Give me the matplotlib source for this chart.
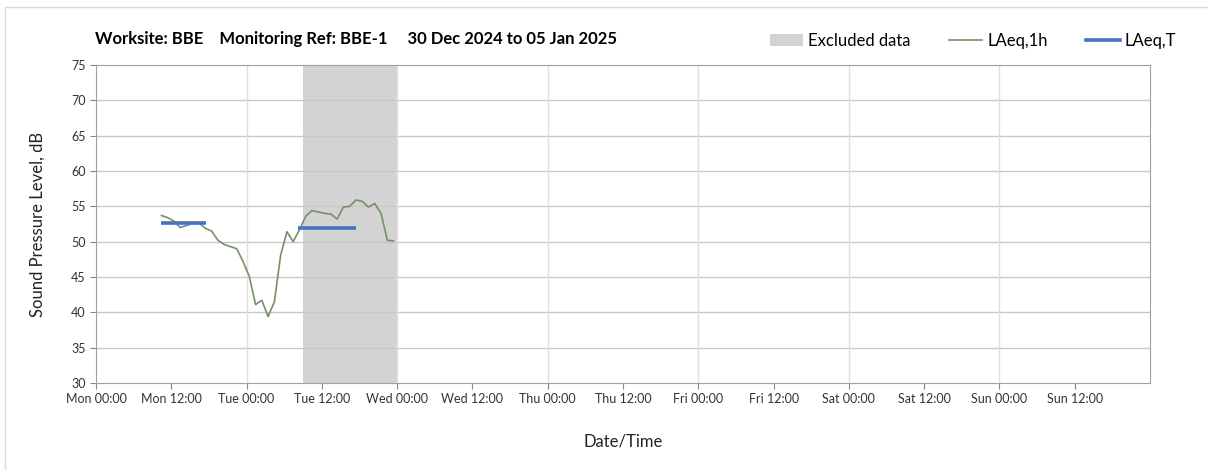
import matplotlib
matplotlib.use("Agg")
import matplotlib.pyplot as plt
from matplotlib.patches import Patch, Rectangle
from matplotlib.lines import Line2D
import numpy as np
import pandas as pd

# hourly LAeq,1h values, first reading Mon 30 Dec ~10:26
start = pd.Timestamp("2024-12-30 10:26")
laeq_1h = [53.7, 53.4, 52.9, 52.0, 52.3, 52.6, 52.6, 51.9, 51.5, 50.2,
           49.6, 49.3, 49.0, 47.2, 45.1, 41.1, 41.7, 39.4, 41.5, 48.1,
           51.4, 50.0, 51.7, 53.6, 54.4, 54.2, 54.0, 53.9, 53.2, 54.9,
           55.0, 55.9, 55.7, 54.9, 55.4, 54.0, 50.2, 50.1]
times_1h = pd.date_range(start, periods=len(laeq_1h), freq="h")

# LAeq,T periods
laeq_t_start = ["2024-12-30 10:18", "2024-12-31 08:12"]
laeq_t_end = ["2024-12-30 17:36", "2024-12-31 17:24"]
laeq_t = [52.7, 51.9]

excl_start = "2024-12-31 09:00"
excl_end = "2025-01-01 00:00"

x_min = pd.Timestamp("2024-12-30 00:00")
x_max = pd.Timestamp("2025-01-06 00:00")

plt.rcParams["font.family"] = ["Lato", "DejaVu Sans"]

fig = plt.figure(figsize=(12.08, 4.70), dpi=100)
ax = fig.add_axes([96 / 1208, 1 - 383 / 470, (1150 - 96) / 1208, (383 - 65) / 470])

ax.axvspan(pd.Timestamp(excl_start), pd.Timestamp(excl_end), color="#d3d3d3", lw=0, zorder=1)
ax.plot(times_1h, laeq_1h, color="#76906a", lw=1.2, zorder=3)
for s, e, v in zip(laeq_t_start, laeq_t_end, laeq_t):
    ax.plot([pd.Timestamp(s), pd.Timestamp(e)], [v, v], color="#4472c4", lw=2.6,
            solid_capstyle="butt", zorder=4)

ax.set_xlim(x_min, x_max)
ax.set_ylim(30, 75)
ax.set_yticks(np.arange(30, 76, 5))
ticks = pd.date_range(x_min, x_max - pd.Timedelta(hours=12), freq="12h")
ax.set_xticks(ticks)
ax.set_xticklabels([t.strftime("%a %H:%M") for t in ticks])
ax.tick_params(axis="both", labelsize=9, color="#888888", length=4, labelcolor="#333333")

for y in np.arange(35, 75, 5):
    ax.axhline(y, color="#c8c8c8", lw=1, zorder=2)
for d in pd.date_range(x_min + pd.Timedelta(days=1), x_max - pd.Timedelta(days=1), freq="D"):
    ax.axvline(d, color="#e0e0e0", lw=1, zorder=2)
for sp in ax.spines.values():
    sp.set_color("#a0a0a0")

ax.set_ylabel("Sound Pressure Level, dB", fontsize=12, color="#222222", labelpad=18)
ax.set_xlabel("Date/Time", fontsize=12, color="#222222", labelpad=20)

fig.text(95 / 1208, 1 - 39 / 470,
         "Worksite: BBE    Monitoring Ref: BBE-1     30 Dec 2024 to 05 Jan 2025",
         fontsize=12, fontweight="bold", va="center", ha="left")

handles = [Patch(facecolor="#d3d3d3", edgecolor="none"),
           Line2D([], [], color="#76906a", lw=1.2),
           Line2D([], [], color="#4472c4", lw=2.6)]
fig.legend(handles, ["Excluded data", "LAeq,1h", "LAeq,T"], loc="center",
           bbox_to_anchor=(973 / 1208, 1 - 41 / 470), ncol=3, frameon=False,
           fontsize=12, handlelength=2.0, handletextpad=0.3, columnspacing=2.3)

fig.add_artist(Rectangle((5 / 1208, -0.02), 1.1, 1 - 7 / 470 + 0.02, transform=fig.transFigure,
                         fill=False, edgecolor="#d9d9d9", lw=1))

fig.savefig("out.png", dpi=100)
